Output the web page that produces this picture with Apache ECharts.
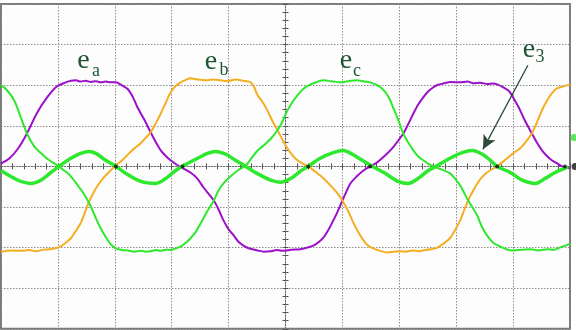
<!DOCTYPE html>
<html><head><meta charset="utf-8">
<script src="https://cdn.jsdelivr.net/npm/echarts@6/dist/echarts.min.js"></script>
<style>html,body{margin:0;padding:0;background:#fff}#c{width:576px;height:330px}</style>
</head><body><div id="c"></div>
<script>
// x in divisions (0..10), y in divisions (-4..4)
const eaData = [[0,0.07],[0.15,0.2],[0.3,0.44],[0.456,0.81],[0.63,1.31],[0.81,1.70],[0.98,1.97],[1.14,2.07],[1.23,2.11],[1.316,2.12],[1.40,2.09],[1.49,2.11],[1.58,2.08],[1.67,2.10],[1.75,2.07],[1.84,2.09],[1.93,2.07],[2.018,2.07],[2.12,2.0],[2.23,1.9],[2.32,1.7],[2.40,1.45],[2.52,1.15],[2.63,0.84],[2.72,0.6],[2.81,0.39],[2.9,0.25],[2.98,0.15],[3.07,0.06],[3.16,-0.02],[3.33,-0.15],[3.45,-0.3],[3.56,-0.52],[3.74,-0.84],[3.82,-1.05],[3.91,-1.33],[4.0,-1.55],[4.09,-1.70],[4.17,-1.85],[4.26,-1.95],[4.38,-2.03],[4.51,-2.07],[4.62,-2.10],[4.74,-2.09],[4.85,-2.06],[4.96,-2.08],[5.1,-2.05],[5.26,-2.04],[5.38,-2.0],[5.49,-1.95],[5.58,-1.87],[5.67,-1.75],[5.76,-1.55],[5.84,-1.33],[5.92,-1.1],[6.0,-0.84],[6.07,-0.62],[6.14,-0.42],[6.25,-0.25],[6.37,-0.10],[6.49,0.0],[6.61,0.10],[6.75,0.27],[6.89,0.47],[7.07,0.81],[7.16,1.05],[7.25,1.31],[7.33,1.52],[7.42,1.70],[7.51,1.85],[7.60,1.95],[7.68,2.01],[7.77,2.04],[7.9,2.08],[8.07,2.07],[8.2,2.09],[8.3,2.05],[8.42,2.06],[8.55,2.03],[8.65,2.04],[8.72,2.02],[8.82,1.95],[8.93,1.85],[9.02,1.65],[9.1,1.45],[9.2,1.15],[9.33,0.81],[9.42,0.58],[9.51,0.39],[9.6,0.25],[9.68,0.15],[9.78,0.07],[9.86,0.0],[10,-0.05]];
const ebData = [[0,-2.10],[0.18,-2.07],[0.35,-2.08],[0.5,-2.06],[0.614,-2.09],[0.75,-2.05],[0.877,-2.04],[0.97,-2.01],[1.053,-1.97],[1.14,-1.88],[1.228,-1.77],[1.31,-1.6],[1.40,-1.40],[1.47,-1.15],[1.544,-0.88],[1.62,-0.66],[1.70,-0.47],[1.79,-0.3],[1.877,-0.17],[2.018,0.02],[2.13,0.15],[2.25,0.32],[2.35,0.45],[2.456,0.57],[2.54,0.7],[2.63,0.84],[2.72,1.06],[2.81,1.31],[2.9,1.58],[2.98,1.82],[3.07,1.98],[3.16,2.07],[3.25,2.13],[3.33,2.17],[3.45,2.14],[3.60,2.12],[3.72,2.14],[3.86,2.12],[3.98,2.10],[4.12,2.14],[4.26,2.11],[4.39,2.07],[4.45,1.95],[4.51,1.75],[4.6,1.58],[4.68,1.38],[4.77,1.12],[4.86,0.89],[4.95,0.65],[5.035,0.44],[5.12,0.28],[5.21,0.15],[5.30,0.07],[5.40,0],[5.56,-0.17],[5.68,-0.31],[5.79,-0.47],[5.9,-0.64],[6.0,-0.84],[6.1,-1.1],[6.19,-1.38],[6.28,-1.62],[6.37,-1.82],[6.45,-1.95],[6.54,-2.02],[6.66,-2.08],[6.79,-2.12],[6.9,-2.10],[7.02,-2.09],[7.12,-2.10],[7.23,-2.07],[7.33,-2.09],[7.42,-2.07],[7.55,-2.04],[7.67,-2.0],[7.78,-1.9],[7.89,-1.77],[7.98,-1.57],[8.07,-1.33],[8.14,-1.08],[8.21,-0.84],[8.29,-0.62],[8.37,-0.42],[8.45,-0.27],[8.54,-0.15],[8.63,-0.07],[8.72,0],[8.895,0.20],[9.0,0.32],[9.12,0.44],[9.22,0.6],[9.33,0.81],[9.40,1.02],[9.47,1.26],[9.53,1.45],[9.60,1.63],[9.68,1.8],[9.77,1.92],[9.88,1.97],[10,2.02]];
const ecData = [[0,2.0],[0.09,1.9],[0.23,1.63],[0.35,1.2],[0.456,0.81],[0.58,0.5],[0.70,0.33],[0.83,0.17],[0.965,0.05],[1.07,-0.06],[1.175,-0.17],[1.26,-0.3],[1.35,-0.47],[1.45,-0.66],[1.544,-0.89],[1.62,-1.12],[1.70,-1.38],[1.79,-1.62],[1.877,-1.82],[1.95,-1.95],[2.018,-2.02],[2.12,-2.06],[2.23,-2.07],[2.34,-2.10],[2.456,-2.08],[2.55,-2.10],[2.63,-2.09],[2.72,-2.06],[2.81,-2.08],[2.9,-2.05],[2.98,-2.06],[3.07,-2.02],[3.16,-1.97],[3.25,-1.88],[3.33,-1.77],[3.42,-1.62],[3.51,-1.4],[3.62,-1.12],[3.74,-0.84],[3.82,-0.6],[3.91,-0.42],[4.03,-0.25],[4.16,-0.10],[4.30,0.02],[4.4,0.2],[4.51,0.39],[4.62,0.52],[4.74,0.68],[4.86,0.89],[4.95,1.12],[5.035,1.38],[5.12,1.58],[5.21,1.75],[5.32,1.92],[5.44,2.02],[5.55,2.08],[5.67,2.12],[5.8,2.10],[5.965,2.07],[6.1,2.10],[6.26,2.12],[6.38,2.09],[6.49,2.07],[6.58,2.02],[6.67,1.95],[6.76,1.82],[6.84,1.63],[6.9,1.42],[6.965,1.21],[7.07,0.81],[7.16,0.58],[7.25,0.39],[7.33,0.25],[7.42,0.15],[7.51,0.06],[7.60,0],[7.75,-0.08],[7.89,-0.17],[7.98,-0.3],[8.07,-0.47],[8.14,-0.65],[8.21,-0.84],[8.29,-1.02],[8.37,-1.21],[8.45,-1.48],[8.54,-1.70],[8.65,-1.88],[8.77,-1.97],[8.88,-2.04],[9.0,-2.07],[9.15,-2.05],[9.30,-2.04],[9.45,-2.07],[9.60,-2.04],[9.72,-2.05],[9.82,-2.0],[9.92,-1.95],[10,-1.90]];
const e3Data = [[0,-0.10],[0.175,-0.25],[0.35,-0.37],[0.526,-0.42],[0.70,-0.34],[0.877,-0.15],[1.018,0],[1.228,0.20],[1.40,0.32],[1.544,0.37],[1.667,0.32],[1.84,0.15],[2.018,0],[2.19,-0.17],[2.456,-0.37],[2.72,-0.42],[2.895,-0.30],[3.07,-0.10],[3.25,0.05],[3.456,0.20],[3.63,0.32],[3.77,0.37],[3.95,0.30],[4.12,0.15],[4.30,0],[4.47,-0.15],[4.74,-0.34],[4.91,-0.39],[5.09,-0.30],[5.26,-0.12],[5.40,0],[5.61,0.20],[5.84,0.34],[6.02,0.39],[6.175,0.30],[6.35,0.15],[6.53,0],[6.75,-0.17],[6.98,-0.37],[7.16,-0.42],[7.33,-0.30],[7.51,-0.10],[7.67,0.02],[7.89,0.20],[8.105,0.34],[8.28,0.39],[8.46,0.30],[8.60,0.15],[8.72,0],[8.95,-0.15],[9.16,-0.34],[9.39,-0.42],[9.56,-0.30],[9.74,-0.15],[9.965,-0.02]];
const crossPoints = [[2.02,0],[3.19,0],[5.40,0],[6.49,0],[8.72,0],[9.91,0]];
const edgeMarkers = [[10.09,0,'#111'],[10.07,0.71,'#33dd33']];
const arrowFrom = [9.26,2.49];
const arrowTo = [8.47,0.42];
const labelMain = ['e','e','e','e'];
const labelSub = ['a','b','c','3'];

const chart = echarts.init(document.getElementById('c'), null, {renderer:'canvas'});
const gridRect = {left:1, right:6, top:4, bottom:1.2};
const gridLine = {color:'#8c8c8c', type:[1.5,1.5], width:1};
const tickStyle = {color:'#555', width:1};
const hidden = {axisLine:{show:false}, axisTick:{show:false}, axisLabel:{show:false}};
function centerAx(dim, pos, grid, zeroIdx, showLine){
  const r = dim==='x' ? {min:-5, max:5} : {min:-4, max:4};
  return Object.assign({type:'value', gridIndex:grid, interval:1, position:pos},
    r, {
    axisLine:{show:showLine, onZero:true, onZeroAxisIndex:zeroIdx, lineStyle:{color:'#6a6a6a', type:[1.5,1.5], width:1}},
    axisTick:{show:true, length:3, lineStyle:tickStyle},
    minorTick:{show:true, splitNumber:5, length:3, lineStyle:tickStyle},
    axisLabel:{show:false}, splitLine:{show:false}, minorSplitLine:{show:false}});
}
const labelColor = '#1d5630';
const serif = '"Times New Roman", "Liberation Serif", serif';
const labelPos = [
  {ex:83.5, ey:61, sx:96, sy:71},
  {ex:211, ey:62, sx:224, sy:70.5},
  {ex:346, ey:61, sx:357, sy:71},
  {ex:529, ey:49.5, sx:540, sy:57}
];
const graphics = [];
labelMain.forEach((t,i)=>{
  const p = labelPos[i];
  graphics.push({type:'text', z:100, style:{text:t, x:p.ex, y:p.ey, font:'28px ' + serif, fill:labelColor, align:'center', verticalAlign:'middle', textAlign:'center', textVerticalAlign:'middle'}});
  graphics.push({type:'text', z:100, style:{text:labelSub[i], x:p.sx, y:p.sy, font:'18px ' + serif, fill:labelColor, align:'center', verticalAlign:'middle', textAlign:'center', textVerticalAlign:'middle'}});
});

chart.setOption({
  animation:false,
  backgroundColor:'#ffffff',
  grid:[
    Object.assign({show:true, borderColor:'#7a7a7a', borderWidth:2, backgroundColor:'#fdfdfd'}, gridRect),
    Object.assign({show:false}, gridRect)
  ],
  xAxis:[
    Object.assign({type:'value', gridIndex:0, min:0, max:10, interval:1, splitLine:{show:true, lineStyle:gridLine}}, hidden),
    centerAx('x','bottom',1,1,true),
    centerAx('x','top',1,2,false)
  ],
  yAxis:[
    Object.assign({type:'value', gridIndex:0, min:-4, max:4, interval:1, splitLine:{show:true, lineStyle:gridLine}}, hidden),
    centerAx('y','left',1,1,true),
    centerAx('y','right',1,2,false)
  ],
  graphic:graphics,
  series:[
    {name:'ea', type:'line', data:eaData, showSymbol:false, smooth:0.3, lineStyle:{color:'#9b10c8', width:2}, itemStyle:{color:'#9b10c8'}, z:3},
    {name:'eb', type:'line', data:ebData, showSymbol:false, smooth:0.3, lineStyle:{color:'#f4ae22', width:2}, itemStyle:{color:'#f4ae22'}, z:3},
    {name:'ec', type:'line', data:ecData, showSymbol:false, smooth:0.3, lineStyle:{color:'#2ee82e', width:2}, itemStyle:{color:'#2ee82e'}, z:3},
    {name:'e3', type:'line', data:e3Data, showSymbol:false, smooth:0.3, lineStyle:{color:'#2ee82e', width:3.5}, itemStyle:{color:'#2ee82e'}, z:4,
      markLine:{silent:true, symbol:['none','arrow'], symbolSize:[10,14], label:{show:false},
        lineStyle:{color:'#2c4a3a', width:1.3, type:'solid'},
        data:[[{coord:arrowFrom},{coord:arrowTo}]]}},
    {name:'cross', type:'scatter', data:crossPoints, symbolSize:4, itemStyle:{color:'#111'}, z:5, silent:true},
    {name:'edge', type:'scatter', data:edgeMarkers.map(d=>({value:[d[0],d[1]], itemStyle:{color:d[2]}})), symbolSize:7, clip:false, z:5, silent:true}
  ]
});
</script></body></html>
